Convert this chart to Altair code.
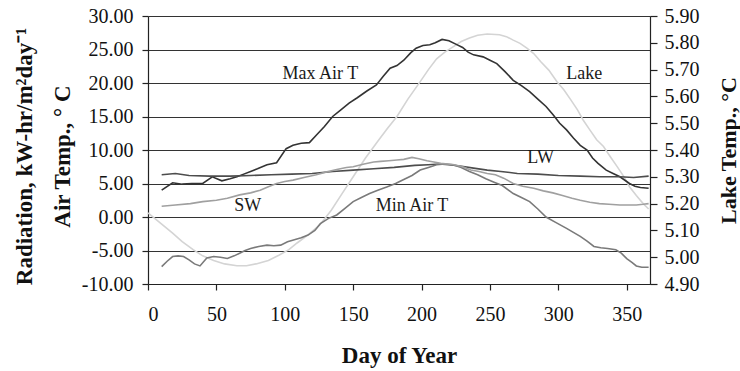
import altair as alt
import pandas as pd

# ---------------- data ----------------
MAX_DAYS = [10, 18, 25, 32, 40, 47, 54, 60, 65, 70, 75, 80, 87, 94, 101, 106, 112, 118, 123, 129,
            135, 141, 147, 153, 160, 167, 172, 177, 182, 187, 192, 196, 201, 206, 210, 215, 220, 225,
            230, 234, 238, 245, 250, 255, 261, 267, 273, 279, 285, 291, 296, 301, 306, 311, 316, 321,
            325, 329, 335, 340, 345, 352, 356, 360, 366]
MAX_T = [4.0, 5.1, 4.9, 5.0, 5.0, 6.0, 5.4, 5.7, 6.0, 6.4, 6.8, 7.2, 7.8, 8.1, 10.2, 10.7, 11.0, 11.1,
         12.2, 13.5, 15.0, 16.0, 17.0, 17.8, 18.8, 19.7, 21.0, 22.2, 22.6, 23.4, 24.5, 25.2, 25.6, 25.7,
         26.0, 26.5, 26.3, 25.8, 25.3, 24.6, 24.2, 23.9, 23.4, 22.9, 21.7, 20.4, 19.6, 18.7, 17.6, 16.5,
         15.3, 14.0, 13.0, 11.8, 10.7, 10.0, 8.8, 8.0, 7.0, 6.5, 6.0, 5.0, 4.6, 4.4, 4.3]

MIN_DAYS = [10, 14, 18, 22, 26, 30, 34, 38, 43, 48, 53, 58, 63, 67, 71, 75, 81, 87, 92, 97, 102, 107,
            112, 117, 122, 126, 132, 138, 144, 150, 156, 162, 168, 175, 181, 187, 193, 199, 205, 211,
            217, 223, 229, 235, 241, 247, 253, 259, 267, 273, 279, 285, 291, 298, 306, 311, 316, 321,
            326, 331, 336, 342, 346, 350, 354, 357, 361, 366]
MIN_T = [-7.4, -6.6, -5.9, -5.8, -5.9, -6.4, -7.0, -7.3, -6.1, -5.9, -6.0, -6.2, -5.8, -5.4, -5.0,
         -4.7, -4.4, -4.2, -4.3, -4.2, -3.7, -3.4, -3.1, -2.7, -2.0, -1.0, -0.2, 0.3, 1.3, 2.3, 2.9,
         3.5, 4.0, 4.5, 5.0, 5.6, 6.2, 7.0, 7.4, 7.8, 7.9, 7.8, 7.4, 6.8, 6.3, 5.7, 5.2, 4.7, 3.5, 2.9,
         2.3, 1.2, 0.0, -0.8, -1.7, -2.3, -2.9, -3.6, -4.4, -4.6, -4.7, -4.9, -5.4, -6.2, -6.8, -7.3,
         -7.5, -7.5]

SW_DAYS = [10, 20, 31, 40, 50, 58, 67, 75, 82, 88, 94, 100, 106, 114, 123, 130, 138, 145, 150, 158,
           165, 170, 176, 182, 187, 193, 198, 204, 209, 214, 219, 224, 230, 236, 242, 248, 254, 260,
           267, 274, 282, 289, 296, 303, 310, 316, 323, 330, 337, 345, 351, 357, 362, 366]
SW = [1.6, 1.8, 2.0, 2.3, 2.5, 2.8, 3.3, 3.6, 4.0, 4.5, 5.0, 5.3, 5.5, 5.9, 6.3, 6.7, 7.1, 7.4, 7.5,
      7.9, 8.2, 8.3, 8.4, 8.5, 8.6, 8.9, 8.7, 8.4, 8.2, 8.0, 7.9, 7.8, 7.5, 7.0, 6.8, 6.5, 6.3, 5.8,
      5.0, 4.6, 4.3, 3.9, 3.6, 3.2, 2.8, 2.5, 2.2, 2.0, 1.9, 1.8, 1.8, 1.8, 1.9, 2.0]

LW_DAYS = [10, 20, 30, 45, 60, 75, 90, 105, 120, 135, 150, 165, 180, 195, 205, 213, 220, 228, 238,
           248, 258, 270, 285, 300, 316, 330, 345, 355, 366]
LW = [6.3, 6.5, 6.2, 6.1, 6.1, 6.2, 6.3, 6.4, 6.5, 6.8, 7.0, 7.2, 7.4, 7.7, 7.8, 7.9, 7.8, 7.6, 7.3,
      7.0, 6.8, 6.5, 6.4, 6.2, 6.1, 6.0, 6.0, 5.9, 6.1]

LAKE_DAYS = [0, 10, 18, 25, 33, 40, 48, 56, 65, 72, 79, 88, 96, 103, 109, 117, 126, 134, 142, 150,
             159, 168, 175, 182, 190, 199, 205, 211, 217, 223, 229, 235, 241, 248, 257, 262, 267, 272,
             277, 282, 287, 293, 299, 304, 309, 314, 318, 323, 328, 333, 338, 343, 348, 352, 357, 362,
             366]
LAKE_T = [5.165, 5.123, 5.090, 5.058, 5.028, 5.005, 4.988, 4.975, 4.968, 4.968, 4.975, 4.988, 5.008,
          5.028, 5.053, 5.083, 5.123, 5.175, 5.238, 5.300, 5.370, 5.433, 5.480, 5.525, 5.590, 5.655,
          5.700, 5.740, 5.765, 5.785, 5.805, 5.818, 5.828, 5.833, 5.830, 5.823, 5.810, 5.798, 5.780,
          5.760, 5.730, 5.698, 5.655, 5.625, 5.588, 5.550, 5.513, 5.475, 5.438, 5.413, 5.375, 5.338,
          5.300, 5.263, 5.230, 5.200, 5.180]

SERIES = ["Max Air T", "LW", "Min Air T", "SW"]
SERIES_COLORS = ["#333333", "#4d4d4d", "#7a7a7a", "#a0a0a0"]

LABELS = ["Max Air T", "Lake", "LW", "SW", "Min Air T"]
LABEL_DAYS = [126, 319, 287, 73, 193]
LABEL_VALUES = [21.3, 21.3, 8.8, 1.6, 1.6]

X_TICKS = [0, 50, 100, 150, 200, 250, 300, 350]
Y_TICKS = [-10, -5, 0, 5, 10, 15, 20, 25, 30]
LAKE_TICKS = [4.9, 5.0, 5.1, 5.2, 5.3, 5.4, 5.5, 5.6, 5.7, 5.8, 5.9]

# ---------------- tables ----------------
rows = []
for name, days, vals in [("Max Air T", MAX_DAYS, MAX_T), ("LW", LW_DAYS, LW),
                         ("Min Air T", MIN_DAYS, MIN_T), ("SW", SW_DAYS, SW)]:
    assert len(days) == len(vals), name
    for d, v in zip(days, vals):
        rows.append({"series": name, "day": d, "value": v})
df = pd.DataFrame(rows)

assert len(LAKE_DAYS) == len(LAKE_T)
lake_df = pd.DataFrame({"day": LAKE_DAYS, "lake": LAKE_T})
label_df = pd.DataFrame({"label": LABELS, "day": LABEL_DAYS, "value": LABEL_VALUES})

FONT = "Liberation Serif"
W, H = 502, 268
HYPHEN_2F = "replace(format(datum.value, '.2f'), '\u2212', '-')"

x_enc = alt.X(
    "day:Q",
    scale=alt.Scale(domain=[0, 367], nice=False, zero=False),
    axis=alt.Axis(values=X_TICKS, grid=False, tickSize=6, labelPadding=14, labelOverlap=False,
                  title="Day of Year", titleX=W / 2, titleY=71, titleFontSize=23,
                  titleBaseline="middle", titleAlign="center"),
)

y_left = alt.Y(
    "value:Q",
    scale=alt.Scale(domain=[-10, 30], nice=False, zero=False),
    axis=alt.Axis(orient="left", values=Y_TICKS, labelExpr=HYPHEN_2F, grid=True,
                  labelOverlap=False, gridColor="#333333", gridWidth=1.2, tickSize=6,
                  labelPadding=9,
                  title=["Radiation, kW-hr/m²day⁻¹", "Air Temp., ° C"],
                  titleAngle=270, titleX=-124, titleY=140, titleAlign="center",
                  titleBaseline="middle", titleLineHeight=38, titleFontSize=23),
)

lake = alt.Chart(lake_df).mark_line(color="#d4d4d4", strokeWidth=1.6).encode(
    x=x_enc,
    y=alt.Y("lake:Q",
            scale=alt.Scale(domain=[4.9, 5.9], nice=False, zero=False),
            axis=alt.Axis(orient="right", values=LAKE_TICKS, labelExpr=HYPHEN_2F, grid=False,
                          labelOverlap=False, tickSize=7, labelPadding=7,
                          title="Lake Temp., °C", titleFontSize=22,
                          titleAngle=270, titleX=78, titleY=134, titleAlign="center",
                          titleBaseline="middle")),
)

lines = alt.Chart(df).mark_line(strokeWidth=1.6).encode(
    x=x_enc,
    y=y_left,
    color=alt.Color("series:N", scale=alt.Scale(domain=SERIES, range=SERIES_COLORS), legend=None),
    detail="series:N",
)

texts = alt.Chart(label_df).mark_text(font=FONT, fontSize=18, color="#1a1a1a",
                                      align="center", baseline="middle").encode(
    x=x_enc,
    y=y_left,
    text="label:N",
)

left = alt.layer(lines, texts)

chart = alt.layer(lake, left).resolve_scale(y="independent").properties(
    width=W, height=H,
    padding={"left": 148, "top": 16, "right": 90, "bottom": 87},
    autosize=alt.AutoSizeParams(type="none"),
).configure_view(stroke=None).configure_axis(
    labelFont=FONT, titleFont=FONT, labelFontSize=20,
    titleFontWeight="bold", labelColor="#111111", titleColor="#111111",
    domainColor="#222222", tickColor="#222222", domainWidth=1.2, tickWidth=1.2,
)

chart.save("out.html", embed_options={"renderer": "svg", "actions": False})
